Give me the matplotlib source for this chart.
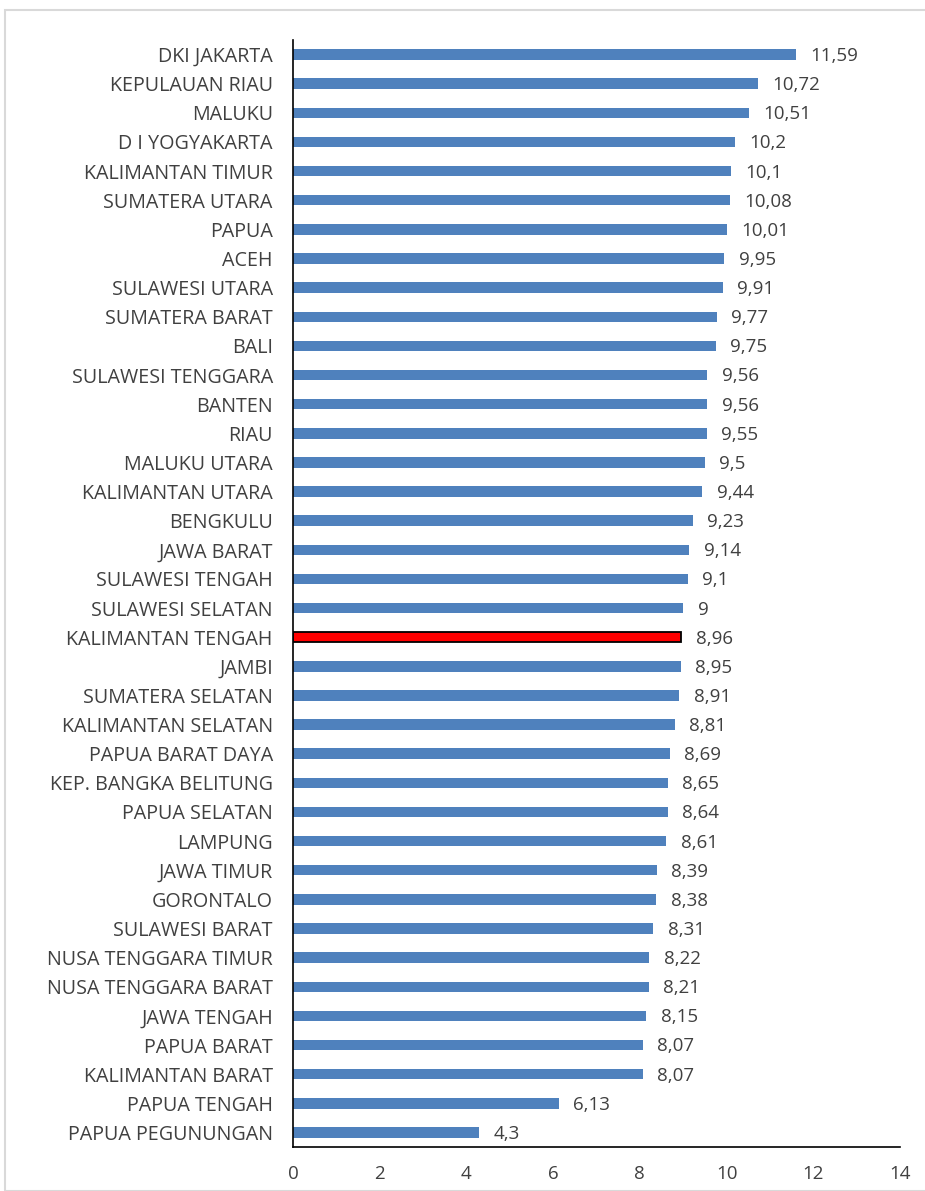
import matplotlib
matplotlib.use("Agg")
import matplotlib.pyplot as plt
from matplotlib.patches import Rectangle

provinces = ["DKI JAKARTA", "KEPULAUAN RIAU", "MALUKU", "D I YOGYAKARTA", "KALIMANTAN TIMUR",
             "SUMATERA UTARA", "PAPUA", "ACEH", "SULAWESI UTARA", "SUMATERA BARAT", "BALI",
             "SULAWESI TENGGARA", "BANTEN", "RIAU", "MALUKU UTARA", "KALIMANTAN UTARA",
             "BENGKULU", "JAWA BARAT", "SULAWESI TENGAH", "SULAWESI SELATAN",
             "KALIMANTAN TENGAH", "JAMBI", "SUMATERA SELATAN", "KALIMANTAN SELATAN",
             "PAPUA BARAT DAYA", "KEP. BANGKA BELITUNG", "PAPUA SELATAN", "LAMPUNG",
             "JAWA TIMUR", "GORONTALO", "SULAWESI BARAT", "NUSA TENGGARA TIMUR",
             "NUSA TENGGARA BARAT", "JAWA TENGAH", "PAPUA BARAT", "KALIMANTAN BARAT",
             "PAPUA TENGAH", "PAPUA PEGUNUNGAN"]
values = [11.59, 10.72, 10.51, 10.2, 10.1, 10.08, 10.01, 9.95, 9.91, 9.77, 9.75,
          9.56, 9.56, 9.55, 9.5, 9.44, 9.23, 9.14, 9.1, 9.0, 8.96, 8.95, 8.91, 8.81,
          8.69, 8.65, 8.64, 8.61, 8.39, 8.38, 8.31, 8.22, 8.21, 8.15, 8.07, 8.07,
          6.13, 4.3]
value_labels = ["11,59", "10,72", "10,51", "10,2", "10,1", "10,08", "10,01", "9,95", "9,91",
                "9,77", "9,75", "9,56", "9,56", "9,55", "9,5", "9,44", "9,23", "9,14", "9,1",
                "9", "8,96", "8,95", "8,91", "8,81", "8,69", "8,65", "8,64", "8,61", "8,39",
                "8,38", "8,31", "8,22", "8,21", "8,15", "8,07", "8,07", "6,13", "4,3"]
highlight = "KALIMANTAN TENGAH"
xticks = [0, 2, 4, 6, 8, 10, 12, 14]

plt.rcParams['font.family'] = ['Open Sans', 'DejaVu Sans']
text_color = "#404040"

fig = plt.figure(figsize=(9.25, 11.91), dpi=100)
fig.patches.append(Rectangle((5/925, 0), 1, 1 - 10/1191, transform=fig.transFigure,
                             fill=False, edgecolor="#d9d9d9", linewidth=1.5))
ax = fig.add_axes([293/925, 1 - 1147/1191, (900 - 293)/925, (1147 - 40)/1191])

n = len(provinces)
ypos = list(range(n))
colors = ["#ff0000" if p == highlight else "#4f81bd" for p in provinces]
edges = ["black" if p == highlight else "#4f81bd" for p in provinces]
lws = [1.3 if p == highlight else 0 for p in provinces]
ax.barh(ypos, values, height=0.36, color=colors, edgecolor=edges, linewidth=lws)

for y, v, lab in zip(ypos, values, value_labels):
    ax.text(v + 0.33, y + 0.05, lab, va="center", ha="left", fontsize=13.5, color=text_color)

ax.set_ylim(n - 0.5, -0.5)
ax.set_xlim(0, 14)
ax.set_yticks(ypos)
ax.set_yticklabels(provinces, fontsize=14.2, color=text_color)
ax.set_xticks(xticks)
ax.set_xticklabels([str(t) for t in xticks], fontsize=13.5, color=text_color)
ax.tick_params(axis="both", length=0)
ax.tick_params(axis="y", pad=14.5)
ax.tick_params(axis="x", pad=13)
for s in ["top", "right"]:
    ax.spines[s].set_visible(False)
ax.spines["left"].set_color("black")
ax.spines["bottom"].set_color("black")
ax.spines["left"].set_linewidth(1.2)
ax.spines["bottom"].set_linewidth(1.2)

fig.savefig("out.png", dpi=100)
